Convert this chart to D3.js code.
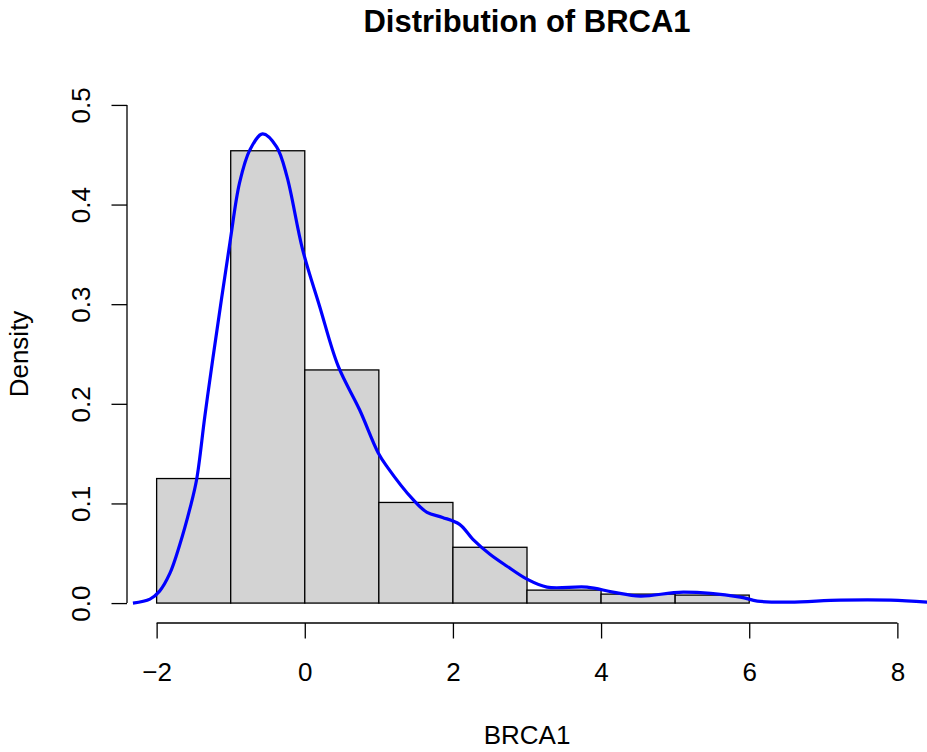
<!DOCTYPE html>
<html>
<head>
<meta charset="utf-8">
<script src="https://d3js.org/d3.v7.min.js"></script>
<style>
  body { margin: 0; background: #fff; }
  text { font-family: "Liberation Sans", Arial, sans-serif; fill: #000; }
</style>
</head>
<body>
<script>
// histogram bins (density scale)
var binStarts = [-2, -1, 0, 1, 2, 3, 4, 5];
var binWidth = 1;
var binDensity = [0.125, 0.454, 0.234, 0.101, 0.056, 0.013, 0.009, 0.008];

// kernel density curve
var densX = [-2.32, -2.09, -1.96, -1.82, -1.69, -1.55, -1.46, -1.35, -1.24, -1.01,
             -0.88, -0.74, -0.57, -0.38, -0.24, -0.03, 0.20, 0.45, 0.74, 0.99,
             1.11, 1.46, 1.65, 1.86, 2.09, 2.27, 2.50, 2.73, 3.00, 3.27,
             3.81, 4.16, 4.53, 5.11, 5.88, 6.11, 6.55, 7.23, 7.91, 8.41];
var densY = [0.000, 0.004, 0.012, 0.030, 0.058, 0.095, 0.124, 0.187, 0.246, 0.362,
             0.422, 0.455, 0.471, 0.458, 0.428, 0.355, 0.298, 0.238, 0.194, 0.151,
             0.137, 0.104, 0.091, 0.086, 0.079, 0.064, 0.049, 0.037, 0.024, 0.016,
             0.016, 0.011, 0.007, 0.011, 0.006, 0.002, 0.001, 0.003, 0.003, 0.001];

var xTicks = [-2, 0, 2, 4, 6, 8];
var yTicks = [0, 0.1, 0.2, 0.3, 0.4, 0.5];

var width = 927, height = 752;
var plotLeft = 127, plotRight = 927, plotTop = 85, plotBottom = 623;

var x = d3.scaleLinear().domain([-2.4, 8.4]).range([plotLeft, plotRight]);
var y = d3.scaleLinear().domain([-0.02, 0.52]).range([plotBottom, plotTop]);

var svg = d3.select("body").append("svg")
    .attr("width", width)
    .attr("height", height);

svg.append("defs").append("clipPath").attr("id", "plotclip")
  .append("rect")
    .attr("x", plotLeft).attr("y", plotTop)
    .attr("width", plotRight - plotLeft).attr("height", plotBottom - plotTop);

// bars
svg.append("g")
  .selectAll("rect")
  .data(binStarts)
  .enter().append("rect")
    .attr("x", function (d) { return x(d); })
    .attr("y", function (d, i) { return y(binDensity[i]); })
    .attr("width", function (d) { return x(d + binWidth) - x(d); })
    .attr("height", function (d, i) { return y(0) - y(binDensity[i]); })
    .attr("fill", "#d3d3d3")
    .attr("stroke", "#000")
    .attr("stroke-width", 1.3);

// density line
var line = d3.line()
    .x(function (d) { return x(d[0]); })
    .y(function (d) { return y(d[1]); })
    .curve(d3.curveCatmullRom.alpha(0.5));

svg.append("path")
    .datum(d3.zip(densX, densY))
    .attr("clip-path", "url(#plotclip)")
    .attr("d", line)
    .attr("fill", "none")
    .attr("stroke", "#0000ff")
    .attr("stroke-width", 3.2);

// x axis
var xAxis = svg.append("g")
    .attr("transform", "translate(0," + plotBottom + ")")
    .call(d3.axisBottom(x).tickValues(xTicks).tickSize(15.5).tickSizeOuter(0)
          .tickFormat(function (d) { return d < 0 ? "\u2212" + Math.abs(d) : d; }));
xAxis.select(".domain").attr("d", "M" + x(-2) + ",0H" + x(8));
xAxis.selectAll("line, path").attr("stroke", "#000").attr("stroke-width", 1.3);
xAxis.selectAll("text")
    .attr("y", 58).attr("dy", null)
    .style("font-size", "26px")
    .style("font-family", "Liberation Sans, Arial, sans-serif");

// y axis, labels rotated like R's default las=0
var yAxis = svg.append("g")
    .attr("transform", "translate(" + plotLeft + ",0)")
    .call(d3.axisLeft(y).tickValues(yTicks).tickSize(15.5).tickSizeOuter(0)
          .tickFormat(d3.format(".1f")));
yAxis.select(".domain").attr("d", "M0," + y(0) + "V" + y(0.5));
yAxis.selectAll("line, path").attr("stroke", "#000").attr("stroke-width", 1.3);
yAxis.selectAll("text")
    .attr("x", null).attr("dy", null).attr("y", 0)
    .attr("transform", "translate(-37,0) rotate(-90)")
    .attr("text-anchor", "middle")
    .style("font-size", "26px")
    .style("font-family", "Liberation Sans, Arial, sans-serif");

// titles
svg.append("text")
    .attr("x", (plotLeft + plotRight) / 2).attr("y", 32)
    .attr("text-anchor", "middle")
    .style("font-size", "31px").style("font-weight", "bold")
    .text("Distribution of BRCA1");

svg.append("text")
    .attr("x", (plotLeft + plotRight) / 2).attr("y", 744)
    .attr("text-anchor", "middle")
    .style("font-size", "26px")
    .text("BRCA1");

svg.append("text")
    .attr("transform", "translate(28," + ((plotTop + plotBottom) / 2) + ") rotate(-90)")
    .attr("text-anchor", "middle")
    .style("font-size", "26px")
    .text("Density");
</script>
</body>
</html>
